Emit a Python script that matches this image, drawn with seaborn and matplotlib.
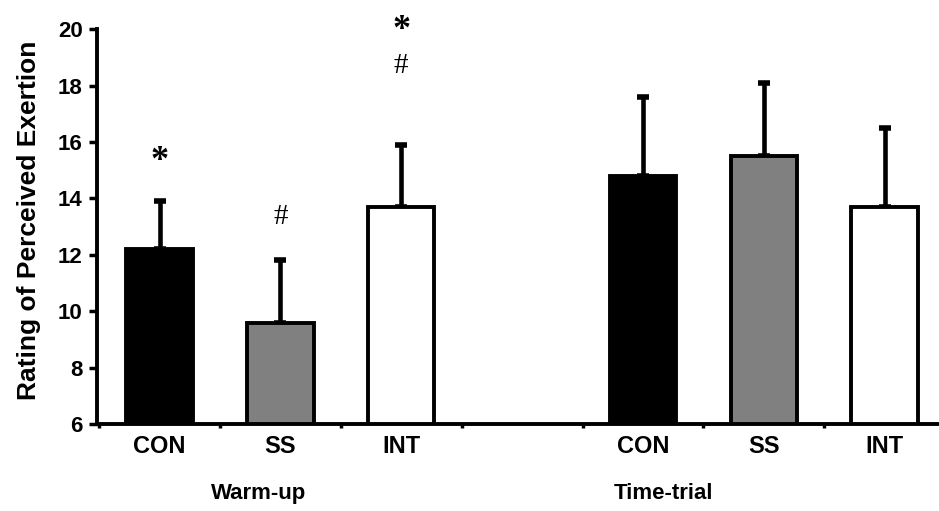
import seaborn as sns
import matplotlib.pyplot as plt
import matplotlib.transforms as mtransforms
import pandas as pd

sns.set_style("white")
plt.rcParams["font.family"] = ["Liberation Sans", "DejaVu Sans"]
plt.rcParams.update({"text.color": "black", "axes.labelcolor": "black",
                     "xtick.color": "black", "ytick.color": "black"})

# data
slots = ["CON_w", "SS_w", "INT_w", "gap", "CON_t", "SS_t", "INT_t"]
slot_labels = ["CON", "SS", "INT", "", "CON", "SS", "INT"]
bar_slots = ["CON_w", "SS_w", "INT_w", "CON_t", "SS_t", "INT_t"]
conditions = ["CON", "SS", "INT", "CON", "SS", "INT"]
means = [12.2, 9.6, 13.7, 14.8, 15.5, 13.7]
sds = [1.7, 2.2, 2.2, 2.8, 2.6, 2.8]
phases = ["Warm-up", "Time-trial"]
phase_pos = [0.82, 4.17]

# significance marks (slot, baseline y, symbol)
marks = [("CON_w", 15.0, "*"), ("SS_w", 13.1, "#"), ("INT_w", 18.45, "#"), ("INT_w", 19.65, "*")]

df = pd.DataFrame({"slot": bar_slots, "cond": conditions, "rpe": means, "sd": sds})
palette = {"CON": "black", "SS": "#808080", "INT": "white"}

fig = plt.figure(figsize=(9.39, 5.11), dpi=100)
ax = fig.add_axes([0.103, 0.170, 0.897, 0.773])

pos = {s: i for i, s in enumerate(slots)}
xs = [pos[s] for s in df["slot"]]
ax.errorbar(xs, df["rpe"], yerr=[[0] * len(df), df["sd"]], fmt="none",
            ecolor="black", elinewidth=3.3, capsize=4.5, capthick=4, zorder=1)

sns.barplot(data=df, x="slot", y="rpe", hue="cond", order=slots, palette=palette,
            dodge=False, legend=False, width=0.55, edgecolor="black", linewidth=2.8,
            errorbar=None, ax=ax, zorder=2)

for s, y, sym in marks:
    ax.text(pos[s], y, sym, ha="center", va="baseline",
            fontsize=26 if sym == "*" else 21,
            fontweight="bold" if sym == "*" else "normal",
            family=["Liberation Serif", "DejaVu Serif"], clip_on=False)

ax.set_ylim(6, 20)
ax.set_yticks(range(6, 21, 2))
ax.set_xlim(-0.52, 6.45)
ax.set_xticks(range(len(slots)))
ax.set_xticklabels(slot_labels, fontsize=17, fontweight="bold")
ax.set_xticks([i + 0.5 for i in range(-1, len(slots) - 1)], minor=True)
ax.tick_params(axis="x", which="major", length=0, pad=8)
ax.tick_params(axis="x", which="minor", length=3, width=2.5, direction="out", bottom=True)
ax.tick_params(axis="y", length=6, width=2.5, direction="out", left=True, pad=4,
               labelsize=16)
for t in ax.get_yticklabels():
    t.set_fontweight("bold")

ax.set_xlabel("")
ax.set_ylabel("Rating of Perceived Exertion", fontsize=19, fontweight="bold")
ax.yaxis.set_label_coords(-0.066, 0.516)

trans = mtransforms.blended_transform_factory(ax.transData, fig.transFigure)
for name, x in zip(phases, phase_pos):
    ax.text(x, 0.035, name, transform=trans, ha="center", va="center",
            fontsize=16, fontweight="bold")

sns.despine(ax=ax)
ax.spines["left"].set_linewidth(2.8)
ax.spines["bottom"].set_linewidth(2.8)
ax.spines["left"].set_color("black")
ax.spines["bottom"].set_color("black")

fig.savefig("out.png", dpi=100)
